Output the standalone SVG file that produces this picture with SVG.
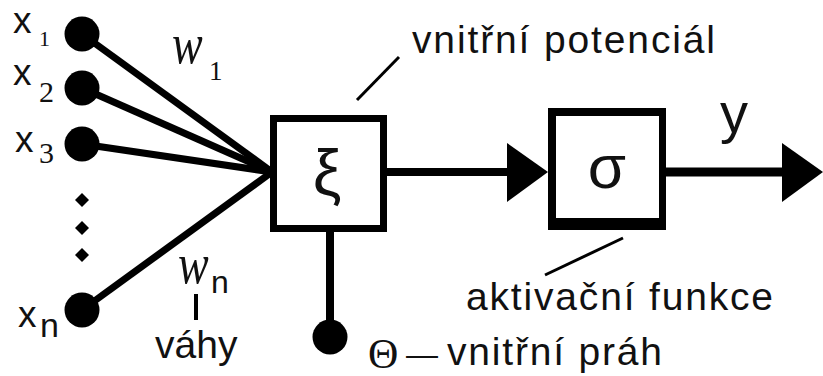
<svg xmlns="http://www.w3.org/2000/svg" width="823" height="376" viewBox="0 0 823 376">
<style>
.s{font-family:"Liberation Sans",Arial,sans-serif;fill:#111}
.r{font-family:"Liberation Serif","Times New Roman",serif;fill:#111}
.ln{stroke:#000;fill:none;stroke-linecap:butt}
.dot{fill:#000}
</style>
<rect width="823" height="376" fill="#fff"/>
<g id="connectors">
  <line class="ln" x1="82" y1="34" x2="272" y2="172" stroke-width="7"/>
  <line class="ln" x1="82" y1="88" x2="272" y2="172" stroke-width="7"/>
  <line class="ln" x1="82" y1="144" x2="272" y2="172" stroke-width="7"/>
  <line class="ln" x1="82" y1="310" x2="272" y2="172" stroke-width="7"/>
  <line class="ln" x1="387" y1="172" x2="510" y2="172" stroke-width="8"/>
  <polygon points="507,143 548,172 507,202" fill="#000"/>
  <line class="ln" x1="666" y1="172" x2="786" y2="172" stroke-width="9"/>
  <polygon points="782,143 823,172 782,202" fill="#000"/>
  <line class="ln" x1="330" y1="232" x2="330" y2="330" stroke-width="8"/>
  <line class="ln" x1="357" y1="100" x2="399" y2="57" stroke-width="3"/>
  <line class="ln" x1="623" y1="238" x2="545" y2="275" stroke-width="3"/>
  <line class="ln" x1="196" y1="294" x2="196" y2="320" stroke-width="4"/>
</g>
<g id="x1">
  <circle class="dot" cx="82" cy="34" r="17.5"/>
  <text class="s" x="13" y="33" font-size="37">x</text>
  <text class="r" x="39" y="46" font-size="22">1</text>
</g>
<g id="x2">
  <circle class="dot" cx="82" cy="88" r="17.5"/>
  <text class="s" x="13" y="85" font-size="37">x</text>
  <text class="r" x="39" y="102" font-size="30">2</text>
</g>
<g id="x3">
  <circle class="dot" cx="82" cy="144" r="17.5"/>
  <text class="s" x="15" y="152" font-size="37">x</text>
  <text class="r" x="39" y="163" font-size="30">3</text>
</g>
<g id="ellipsis">
  <polygon points="82,193 89,200 82,207 75,200" fill="#000"/>
  <polygon points="82,221 89,228 82,235 75,228" fill="#000"/>
  <polygon points="82,248 89,255 82,262 75,255" fill="#000"/>
</g>
<g id="xn">
  <circle class="dot" cx="82" cy="310" r="17.5"/>
  <text class="s" x="18" y="327" font-size="37">x</text>
  <text class="s" x="40" y="337" font-size="34">n</text>
</g>
<g id="w1">
  <text class="r" font-size="46" font-style="italic" transform="translate(172,63) scale(1,1.25)">w</text>
  <text class="r" x="209" y="80" font-size="27">1</text>
</g>
<g id="wn">
  <text class="r" font-size="46" font-style="italic" transform="translate(178,283) scale(1,1.25)">w</text>
  <text class="s" x="211" y="293" font-size="32">n</text>
  <text class="s" x="155" y="358" font-size="39">váhy</text>
</g>
<g id="xi">
  <path d="M270,115H387V232H270Z M277,122V225H380V122Z" fill="#000" fill-rule="evenodd"/>
  <text class="s" x="327" y="195" font-size="64" text-anchor="middle">ξ</text>
</g>
<g id="sigma">
  <path d="M548,108H666V230H548Z M556,116V218H659V116Z" fill="#000" fill-rule="evenodd"/>
  <text class="s" x="607" y="188" font-size="62" text-anchor="middle">σ</text>
</g>
<g id="theta">
  <circle class="dot" cx="330" cy="337" r="17.5"/>
  <text y="365"><tspan class="r" x="368" y="368" font-size="42">Θ</tspan><tspan class="s" x="406" y="365" font-size="32">—</tspan><tspan class="s" x="447" y="365" font-size="39" textLength="215" lengthAdjust="spacing">vnitřní práh</tspan></text>
</g>
<g id="labels">
  <text class="s" x="412" y="53" font-size="39" textLength="303" lengthAdjust="spacing">vnitřní potenciál</text>
  <text class="s" x="466" y="310" font-size="39" textLength="307" lengthAdjust="spacing">aktivační funkce</text>
  <text class="s" x="720" y="132" font-size="56">y</text>
</g>
</svg>
